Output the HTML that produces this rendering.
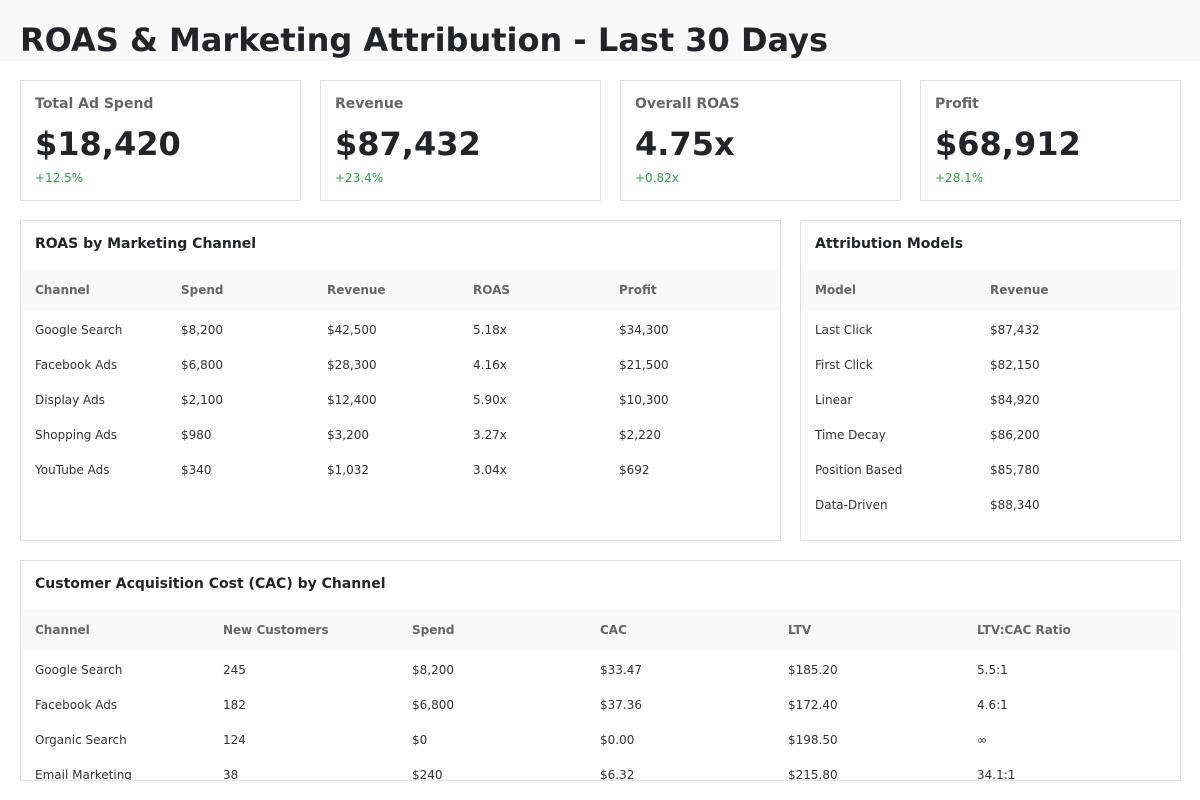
<!DOCTYPE html>
<html>
<head>
<meta charset="utf-8">
<style>
  html,body{margin:0;padding:0;background:#fff;width:1200px;height:800px;overflow:hidden;}
  body{font-family:"DejaVu Sans","Liberation Sans",sans-serif;color:#212529;position:relative;}
  .hdr{position:absolute;left:0;top:0;width:1200px;height:61px;background:#f8f9fa;}
  h1{position:absolute;left:20px;top:21px;margin:0;font-size:32px;font-weight:bold;color:#212529;white-space:nowrap;line-height:normal;}
  .card{position:absolute;box-sizing:border-box;border:1px solid #dee2e6;background:#fff;overflow:hidden;}
  .t{position:absolute;white-space:nowrap;line-height:normal;}
  .klabel{left:14px;top:15px;font-size:14px;font-weight:bold;color:#666;}
  .kval{left:14px;top:44px;font-size:32px;font-weight:bold;color:#212529;}
  .kchg{left:14px;top:90px;font-size:12px;color:#28a745;}
  .ctitle{left:14px;top:15px;font-size:14px;font-weight:bold;color:#212529;}
  .thead{position:absolute;left:0;top:49px;height:40px;width:100%;background:#f8f9fa;}
  .thead span{position:absolute;top:0;line-height:40px;font-size:12px;font-weight:bold;color:#666;white-space:nowrap;}
  .row{position:absolute;left:0;height:35px;width:100%;}
  .row span{position:absolute;top:0;line-height:35px;font-size:12px;color:#333;white-space:nowrap;}
</style>
</head>
<body>
<div class="hdr"></div>
<h1>ROAS &amp; Marketing Attribution - Last 30 Days</h1>

<div class="card" style="left:20px;top:80px;width:281px;height:121px;">
  <div class="t klabel">Total Ad Spend</div>
  <div class="t kval">$18,420</div>
  <div class="t kchg">+12.5%</div>
</div>
<div class="card" style="left:320px;top:80px;width:281px;height:121px;">
  <div class="t klabel">Revenue</div>
  <div class="t kval">$87,432</div>
  <div class="t kchg">+23.4%</div>
</div>
<div class="card" style="left:620px;top:80px;width:281px;height:121px;">
  <div class="t klabel">Overall ROAS</div>
  <div class="t kval">4.75x</div>
  <div class="t kchg">+0.82x</div>
</div>
<div class="card" style="left:920px;top:80px;width:261px;height:121px;">
  <div class="t klabel">Profit</div>
  <div class="t kval">$68,912</div>
  <div class="t kchg">+28.1%</div>
</div>

<!-- ROAS by channel -->
<div class="card" style="left:20px;top:220px;width:761px;height:321px;">
  <div class="t ctitle">ROAS by Marketing Channel</div>
  <div class="thead">
    <span style="left:14px">Channel</span><span style="left:160px">Spend</span><span style="left:306px">Revenue</span><span style="left:452px">ROAS</span><span style="left:598px">Profit</span>
  </div>
  <div class="row" style="top:92px"><span style="left:14px">Google Search</span><span style="left:160px">$8,200</span><span style="left:306px">$42,500</span><span style="left:452px">5.18x</span><span style="left:598px">$34,300</span></div>
  <div class="row" style="top:127px"><span style="left:14px">Facebook Ads</span><span style="left:160px">$6,800</span><span style="left:306px">$28,300</span><span style="left:452px">4.16x</span><span style="left:598px">$21,500</span></div>
  <div class="row" style="top:162px"><span style="left:14px">Display Ads</span><span style="left:160px">$2,100</span><span style="left:306px">$12,400</span><span style="left:452px">5.90x</span><span style="left:598px">$10,300</span></div>
  <div class="row" style="top:197px"><span style="left:14px">Shopping Ads</span><span style="left:160px">$980</span><span style="left:306px">$3,200</span><span style="left:452px">3.27x</span><span style="left:598px">$2,220</span></div>
  <div class="row" style="top:232px"><span style="left:14px">YouTube Ads</span><span style="left:160px">$340</span><span style="left:306px">$1,032</span><span style="left:452px">3.04x</span><span style="left:598px">$692</span></div>
</div>

<!-- Attribution models -->
<div class="card" style="left:800px;top:220px;width:381px;height:321px;">
  <div class="t ctitle">Attribution Models</div>
  <div class="thead">
    <span style="left:14px">Model</span><span style="left:189px">Revenue</span>
  </div>
  <div class="row" style="top:92px"><span style="left:14px">Last Click</span><span style="left:189px">$87,432</span></div>
  <div class="row" style="top:127px"><span style="left:14px">First Click</span><span style="left:189px">$82,150</span></div>
  <div class="row" style="top:162px"><span style="left:14px">Linear</span><span style="left:189px">$84,920</span></div>
  <div class="row" style="top:197px"><span style="left:14px">Time Decay</span><span style="left:189px">$86,200</span></div>
  <div class="row" style="top:232px"><span style="left:14px">Position Based</span><span style="left:189px">$85,780</span></div>
  <div class="row" style="top:267px"><span style="left:14px">Data-Driven</span><span style="left:189px">$88,340</span></div>
</div>

<!-- CAC -->
<div class="card" style="left:20px;top:560px;width:1161px;height:221px;">
  <div class="t ctitle">Customer Acquisition Cost (CAC) by Channel</div>
  <div class="thead">
    <span style="left:14px">Channel</span><span style="left:202px">New Customers</span><span style="left:391px">Spend</span><span style="left:579px">CAC</span><span style="left:767px">LTV</span><span style="left:956px">LTV:CAC Ratio</span>
  </div>
  <div class="row" style="top:92px"><span style="left:14px">Google Search</span><span style="left:202px">245</span><span style="left:391px">$8,200</span><span style="left:579px">$33.47</span><span style="left:767px">$185.20</span><span style="left:956px">5.5:1</span></div>
  <div class="row" style="top:127px"><span style="left:14px">Facebook Ads</span><span style="left:202px">182</span><span style="left:391px">$6,800</span><span style="left:579px">$37.36</span><span style="left:767px">$172.40</span><span style="left:956px">4.6:1</span></div>
  <div class="row" style="top:162px"><span style="left:14px">Organic Search</span><span style="left:202px">124</span><span style="left:391px">$0</span><span style="left:579px">$0.00</span><span style="left:767px">$198.50</span><span style="left:956px">∞</span></div>
  <div class="row" style="top:197px"><span style="left:14px">Email Marketing</span><span style="left:202px">38</span><span style="left:391px">$240</span><span style="left:579px">$6.32</span><span style="left:767px">$215.80</span><span style="left:956px">34.1:1</span></div>
</div>
</body>
</html>
